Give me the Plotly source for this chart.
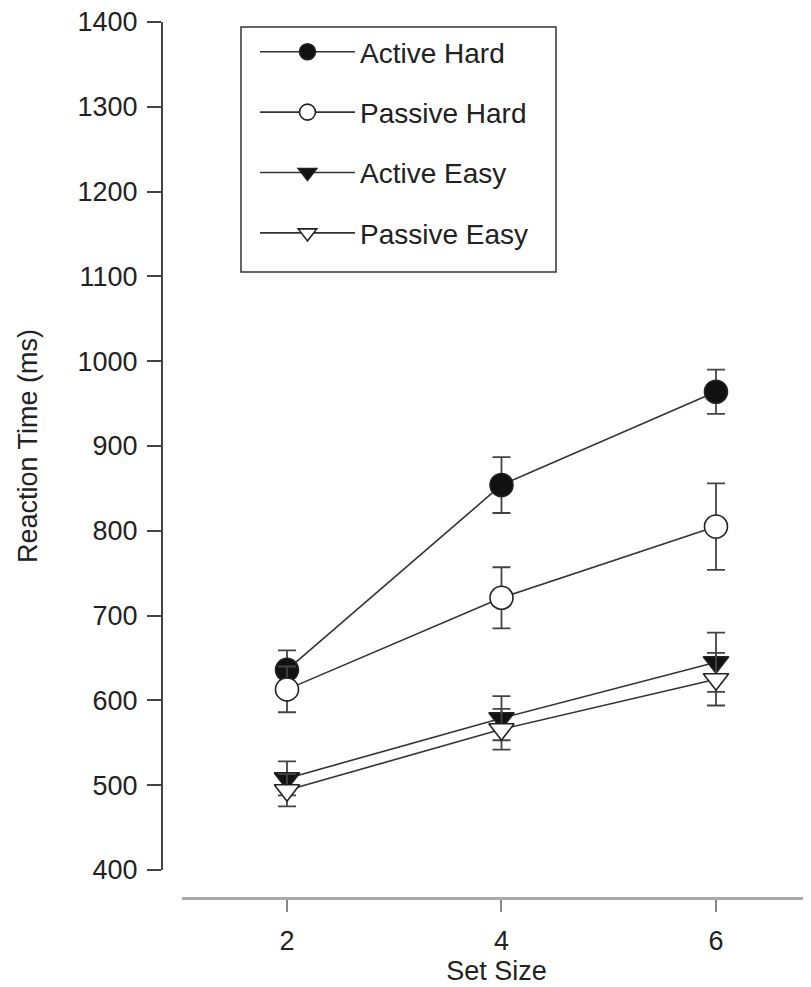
import plotly.graph_objects as go

set_size = [2, 4, 6]
series_names = ["Active Hard", "Passive Hard", "Active Easy", "Passive Easy"]
active_hard = [636, 854, 964]
active_hard_err = [23, 33, 26]
passive_hard = [613, 721, 805]
passive_hard_err = [27, 36, 51]
active_easy = [508, 579, 645]
active_easy_err = [20, 26, 35]
passive_easy = [494, 566, 625]
passive_easy_err = [19, 24, 31]

y_ticks = [400, 500, 600, 700, 800, 900, 1000, 1100, 1200, 1300, 1400]

values = [active_hard, passive_hard, active_easy, passive_easy]
errors = [active_hard_err, passive_hard_err, active_easy_err, passive_easy_err]
symbols = ["circle", "circle", "triangle-down", "triangle-down"]
fills = ["#111111", "white", "#111111", "white"]
sizes = [23, 23, 22, 22]

FONT = "Liberation Sans, Arial, sans-serif"
fig = go.Figure()
for i, name in enumerate(series_names):
    fig.add_trace(go.Scatter(
        x=set_size, y=values[i], name=name, mode="lines+markers",
        legendgroup=name,
        line=dict(color="#333333", width=1.6),
        marker=dict(symbol=symbols[i], size=sizes[i], color=fills[i],
                    line=dict(color="#222222", width=1.6)),
        error_y=dict(type="data", array=errors[i], visible=True,
                     color="#444444", thickness=1.8, width=9),
    ))

# page has an 8px body margin; figure coordinates = screen coordinates - 8
OFF = 8
W, H = 811 - OFF, 987 - OFF
ml, mr, mt = 162 - OFF, 0, 22 - OFF
plot_bottom = 898 - OFF
mb = H - plot_bottom
pw, ph = W - ml - mr, H - mt - mb


def px_x(sx):
    return (sx - OFF - ml) / pw


def px_y(sy):
    return (plot_bottom - (sy - OFF)) / ph


# legend frame
fig.add_shape(type="rect", xref="paper", yref="paper",
              x0=px_x(241), x1=px_x(556), y0=px_y(272), y1=px_y(27),
              line=dict(color="#333333", width=1.5), fillcolor="white", layer="below")

fig.update_layout(
    width=W, height=H,
    margin=dict(l=ml, r=mr, t=mt, b=mb),
    paper_bgcolor="white", plot_bgcolor="white",
    font=dict(family=FONT, size=27, color="#222222"),
    showlegend=True,
    legend=dict(
        x=px_x(255), y=px_y(27),
        xanchor="left", yanchor="top",
        borderwidth=0, bgcolor="rgba(0,0,0,0)",
        font=dict(family=FONT, size=28, color="#222222"),
        itemwidth=95, tracegroupgap=21,
    ),
    xaxis=dict(
        domain=[(182 - 162) / pw, 1], anchor="free", position=0,
        range=[1.021, 6.886], tickvals=set_size, ticktext=[str(s) for s in set_size],
        showgrid=False, zeroline=False,
        showline=True, linecolor="#aaaaaa", linewidth=2.5,
        ticks="outside", ticklen=12, tickwidth=2, tickcolor="#888888",
        tickfont=dict(size=27), ticklabelstandoff=6,
        title=dict(text="Set Size", font=dict(size=27), standoff=5),
    ),
    yaxis=dict(
        domain=[(898 - 870) / ph, 1], anchor="free", position=0,
        range=[400, 1400.01], tickvals=y_ticks, ticktext=[str(t) for t in y_ticks],
        showgrid=False, zeroline=False,
        showline=True, linecolor="#444444", linewidth=2,
        ticks="outside", ticklen=14, tickwidth=2, tickcolor="#444444",
        tickfont=dict(size=27), ticklabelstandoff=4, ticklabeloverflow="allow",
        title=dict(text="Reaction Time (ms)", font=dict(size=27), standoff=31),
    ),
)

fig.write_html("out.html")
